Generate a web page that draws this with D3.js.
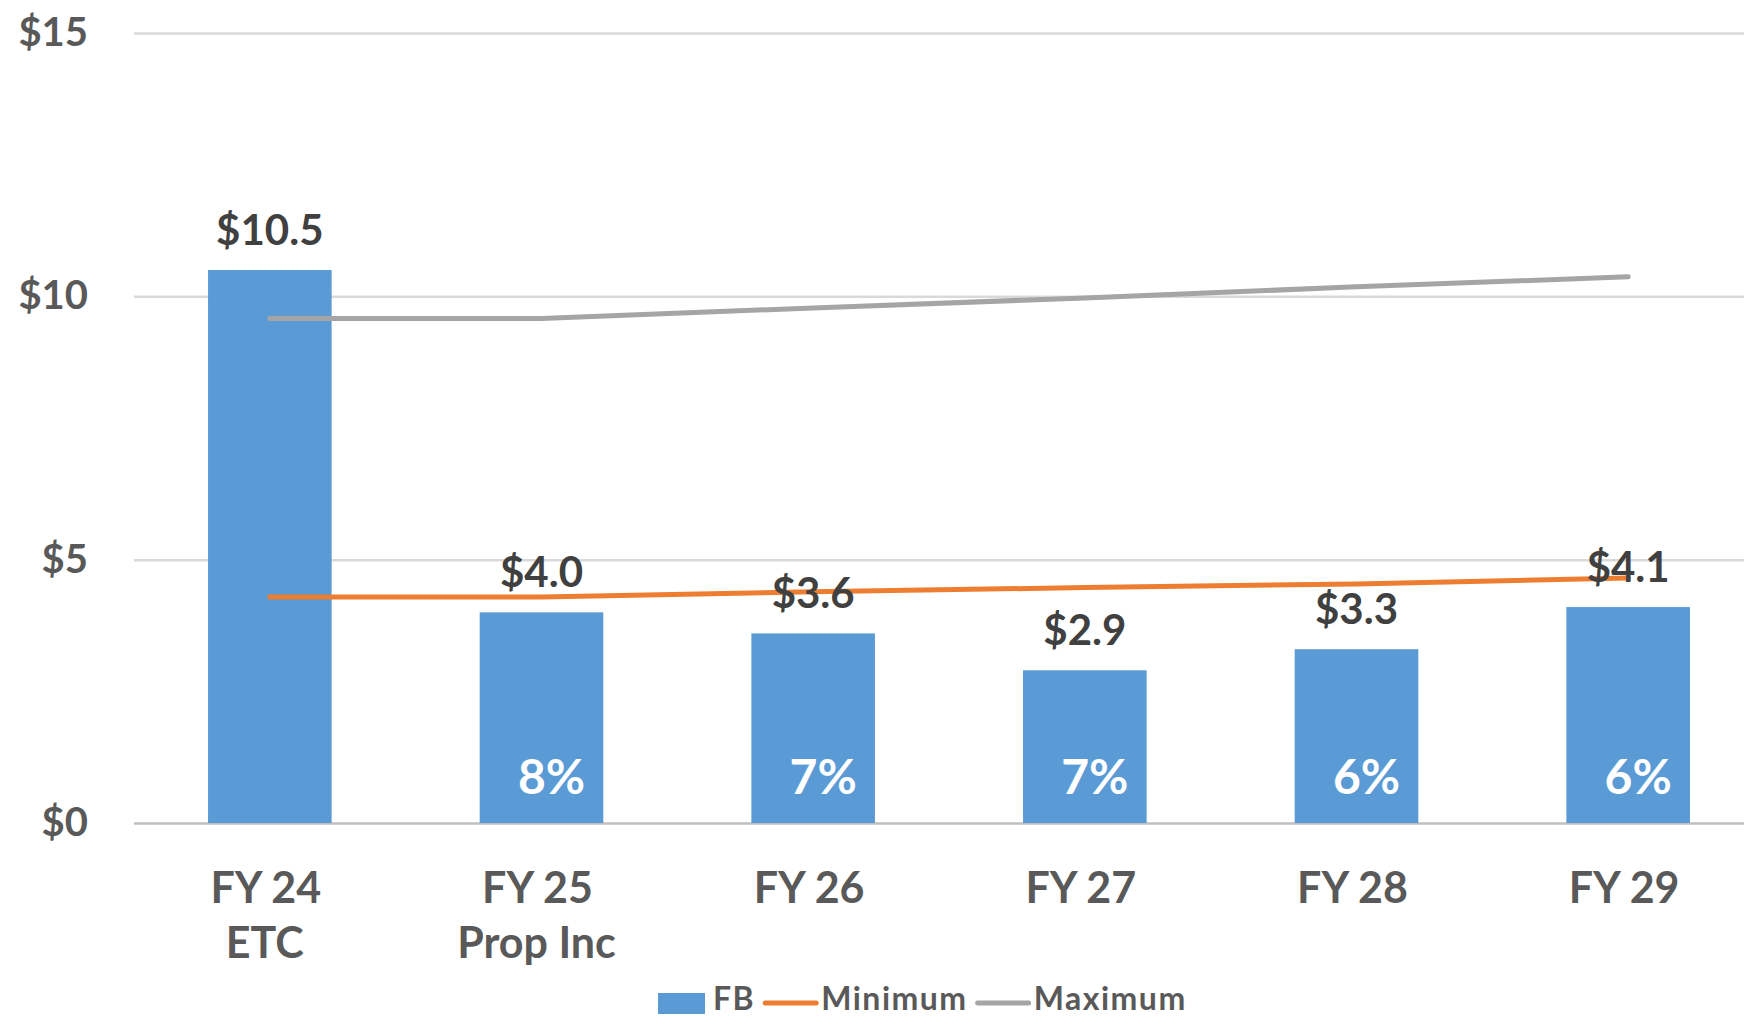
<!DOCTYPE html>
<html>
<head>
<meta charset="utf-8">
<script src="https://cdn.jsdelivr.net/npm/d3@7"></script>
<style>
  html, body { margin: 0; padding: 0; background: #fff; overflow: hidden; }
  svg { display: block; font-family: Lato, "Open Sans", sans-serif; font-weight: 700; }
</style>
</head>
<body>
<div id="chart"></div>
<script>
// chart data
var categories = ["FY 24", "FY 25", "FY 26", "FY 27", "FY 28", "FY 29"];
var subLabels = ["ETC", "Prop Inc", "", "", "", ""];
var fbValues = [10.5, 4.0, 3.6, 2.9, 3.3, 4.1];
var pctLabels = ["", "8%", "7%", "7%", "6%", "6%"];
var minimumValues = [4.29, 4.29, 4.39, 4.47, 4.54, 4.65];
var maximumValues = [9.58, 9.58, 9.78, 9.97, 10.18, 10.37];
var yTicks = [0, 5, 10, 15];

var width = 1744;
var height = 1018;
var plotLeft = 134;
var plotRight = 1764;
var plotTop = 33;
var plotBottom = 823;

var colors = { FB: "#5B9BD5", Minimum: "#ED7D31", Maximum: "#A5A5A5" };

var svg = d3.select("#chart").append("svg")
  .attr("width", width)
  .attr("height", height);

var x = d3.scaleBand()
  .domain(categories)
  .range([plotLeft, plotRight])
  .paddingInner(0.545)
  .paddingOuter(0.2725);

var y = d3.scaleLinear()
  .domain([0, 15])
  .range([plotBottom, plotTop]);

function center(d) {
  return x(d) + x.bandwidth() / 2;
}

// gridlines + y labels
var yAxis = svg.append("g")
  .attr("transform", "translate(" + plotLeft + ",0)")
  .call(d3.axisLeft(y)
    .tickValues(yTicks)
    .tickSize(-(plotRight - plotLeft))
    .tickPadding(46)
    .tickFormat(function (d) { return "$" + d; }));

yAxis.select(".domain").remove();
yAxis.selectAll(".tick line")
  .attr("stroke", function (d) { return d === 0 ? "#BFBFBF" : "#D9D9D9"; })
  .attr("stroke-width", 2.5);
yAxis.selectAll(".tick text")
  .attr("fill", "#595959")
  .attr("font-size", 40)
  .attr("font-family", "Lato, 'Open Sans', sans-serif")
  .attr("font-weight", 700)
  .attr("dy", "0.31em");

// bars
svg.append("g")
  .selectAll("rect")
  .data(fbValues)
  .enter()
  .append("rect")
  .attr("x", function (d, i) { return x(categories[i]); })
  .attr("y", function (d) { return y(d); })
  .attr("width", x.bandwidth())
  .attr("height", function (d) { return y(0) - y(d); })
  .attr("fill", colors.FB);

// min / max lines
var line = d3.line()
  .x(function (d, i) { return center(categories[i]); })
  .y(function (d) { return y(d); });

[["Maximum", maximumValues], ["Minimum", minimumValues]].forEach(function (s) {
  svg.append("path")
    .datum(s[1])
    .attr("d", line)
    .attr("fill", "none")
    .attr("stroke", colors[s[0]])
    .attr("stroke-width", 5)
    .attr("stroke-linecap", "round")
    .attr("stroke-linejoin", "round");
});

// value labels over bars
svg.append("g")
  .selectAll("text")
  .data(fbValues)
  .enter()
  .append("text")
  .attr("x", function (d, i) { return center(categories[i]); })
  .attr("y", function (d) { return y(d) - 25; })
  .attr("text-anchor", "middle")
  .attr("font-size", 42)
  .attr("fill", "#404040")
  .text(function (d) { return "$" + d.toFixed(1); });

// percent labels inside bars
svg.append("g")
  .selectAll("text")
  .data(pctLabels)
  .enter()
  .append("text")
  .attr("x", function (d, i) { return center(categories[i]) + 10; })
  .attr("y", y(0) - 29)
  .attr("text-anchor", "middle")
  .attr("font-size", 48)
  .attr("fill", "#ffffff")
  .text(function (d) { return d; });

// category labels
var catLabels = svg.append("g")
  .selectAll("text")
  .data(categories)
  .enter()
  .append("text")
  .attr("text-anchor", "middle")
  .attr("font-size", 43)
  .attr("fill", "#595959");

catLabels.append("tspan")
  .attr("x", function (d) { return center(d) - 4; })
  .attr("y", 903)
  .text(function (d) { return d; });

catLabels.append("tspan")
  .attr("x", function (d) { return center(d) - 5; })
  .attr("y", 958)
  .text(function (d, i) { return subLabels[i]; });

// legend
var legend = svg.append("g").attr("class", "legend");
var lx = 658;
var legendY = 1003;
var legendItems = ["FB", "Minimum", "Maximum"];

legendItems.forEach(function (name, i) {
  if (i === 0) {
    legend.append("rect")
      .attr("x", lx)
      .attr("y", legendY - 10)
      .attr("width", 47)
      .attr("height", 21)
      .attr("fill", colors[name]);
    lx += 55;
  } else {
    legend.append("line")
      .attr("x1", lx)
      .attr("x2", lx + 51)
      .attr("y1", legendY)
      .attr("y2", legendY)
      .attr("stroke", colors[name])
      .attr("stroke-width", 5)
      .attr("stroke-linecap", "round");
    lx += 56;
  }
  var t = legend.append("text")
    .attr("x", lx)
    .attr("y", 1010)
    .attr("font-size", 32)
    .attr("letter-spacing", 1.5)
    .attr("fill", "#595959")
    .text(name);
  lx += t.node().getComputedTextLength() + 10;
});
</script>
</body>
</html>
